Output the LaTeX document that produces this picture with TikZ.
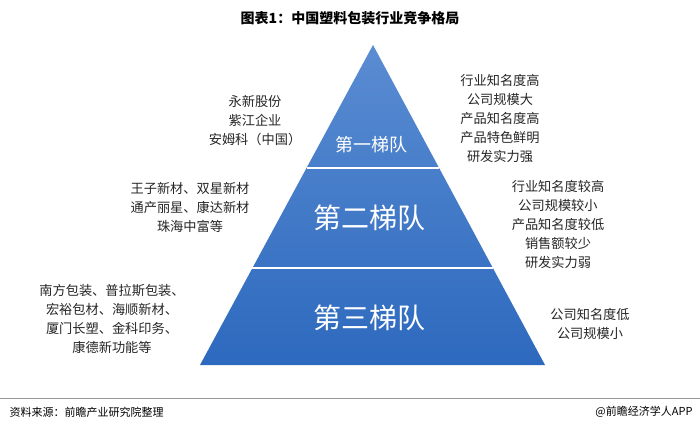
\documentclass[tikz,border=0pt]{standalone}
\usepackage{fontspec}
\setmainfont{Noto Sans CJK SC}
\begin{document}
\begin{tikzpicture}[x=1pt,y=-1pt,
  side/.style={align=center,font=\fontsize{13.2}{19}\selectfont,text=black!85},
  tier/.style={text=white}]
\useasboundingbox (0,0) rectangle (700,432);
\fill[white] (0,0) rectangle (700,432);
\node[font=\fontsize{14}{16}\selectfont\bfseries] (title) at (350,18) {图表1：中国塑料包装行业竞争格局};
\coordinate (A) at (373,45);
\coordinate (L) at (200,365);
\coordinate (R) at (545,365);
\shade[top color={rgb,255:red,90;green,140;blue,210},bottom color={rgb,255:red,45;green,105;blue,190}] (A) -- (L) -- (R) -- cycle;
\coordinate (l1) at (306.5,168); \coordinate (r1) at (439,168);
\coordinate (l2) at (252.4,268); \coordinate (r2) at (492.9,268);
\draw[white,line width=1.2pt] (l1) -- (r1);
\draw[white,line width=1.2pt] (l2) -- (r2);
\node[tier,font=\fontsize{18}{20}\selectfont] (t1) at (371,145) {第一梯队};
\node[tier,font=\fontsize{28}{30}\selectfont] (t2) at (369,218) {第二梯队};
\node[tier,font=\fontsize{28}{30}\selectfont] (t3) at (369,318) {第三梯队};
\node[side] (a1) at (255,121) {永新股份\\紫江企业\\安姆科（中国）};
\node[side] (a2) at (190,207) {王子新材、双星新材\\通产丽星、康达新材\\珠海中富等};
\node[side] (a3) at (112,319) {南方包装、普拉斯包装、\\宏裕包材、海顺新材、\\厦门长塑、金科印务、\\康德新功能等};
\node[side] (b1) at (500,118) {行业知名度高\\公司规模大\\产品知名度高\\产品特色鲜明\\研发实力强};
\node[side] (b2) at (558,224) {行业知名度较高\\公司规模较小\\产品知名度较低\\销售额较少\\研发实力弱};
\node[side] (b3) at (590,324) {公司知名度低\\公司规模小};
\draw[black!40,line width=0.6pt] (0,398) -- (700,398);
\node[anchor=west,font=\fontsize{11}{13}\selectfont] (src) at (6,412) {资料来源：前瞻产业研究院整理};
\node[anchor=east,font=\fontsize{11}{13}\selectfont] (app) at (696,412) {@前瞻经济学人APP};
\end{tikzpicture}
\end{document}
